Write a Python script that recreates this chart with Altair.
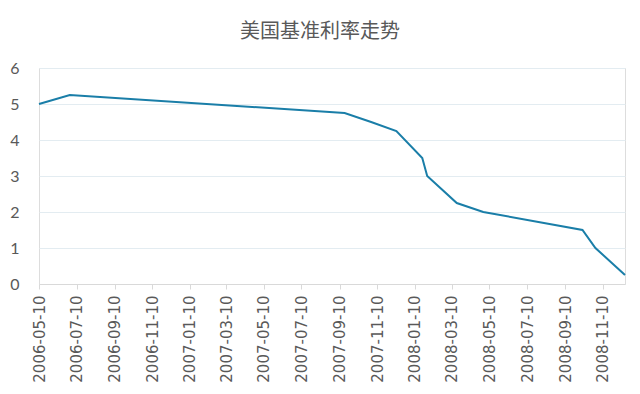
import altair as alt
import pandas as pd

# Data (US federal funds target rate)
dates = ["2006-05-10", "2006-06-29", "2007-09-18", "2007-10-31", "2007-12-11",
         "2008-01-22", "2008-01-30", "2008-03-18", "2008-04-30", "2008-10-08",
         "2008-10-29", "2008-12-16"]
rates = [5.00, 5.25, 4.75, 4.50, 4.25, 3.50, 3.00, 2.25, 2.00, 1.50, 1.00, 0.25]

tick_labels = ["2006-05-10", "2006-07-10", "2006-09-10", "2006-11-10",
               "2007-01-10", "2007-03-10", "2007-05-10", "2007-07-10",
               "2007-09-10", "2007-11-10", "2008-01-10", "2008-03-10",
               "2008-05-10", "2008-07-10", "2008-09-10", "2008-11-10"]
y_ticks = [0, 1, 2, 3, 4, 5, 6]
title_text = "美国基准利率走势"


def to_ms(s):
    return int(pd.Timestamp(s).value // 10**6)


df = pd.DataFrame({"t": [to_ms(d) for d in dates], "rate": rates})

x_domain = [to_ms(dates[0]), to_ms(dates[-1])]
x_values = [to_ms(s) for s in tick_labels]

label_color = "#595959"

chart = alt.Chart(df).mark_line(color="#1a7ea8", strokeWidth=2).encode(
    x=alt.X(
        "t:T",
        scale=alt.Scale(type="utc", domain=x_domain, nice=False),
        axis=alt.Axis(
            title=None,
            values=x_values,
            labelExpr="utcFormat(datum.value, '%Y-%m-%d')",
            labelAngle=270,
            labelFont="DejaVu Sans",
            labelFontSize=15,
            labelColor=label_color,
            labelPadding=6,
            labelOverlap=False,
            tickSize=5,
            tickColor="#d9d9d9",
            domainColor="#d9d9d9",
            grid=False,
        ),
    ),
    y=alt.Y(
        "rate:Q",
        scale=alt.Scale(domain=[0, 6], nice=False),
        axis=alt.Axis(
            title=None,
            values=y_ticks,
            format="d",
            labelFont="Lato",
            labelFontSize=16,
            labelColor=label_color,
            labelPadding=20,
            ticks=False,
            domain=False,
            gridColor="#e3ecf1",
            gridWidth=1,
        ),
    ),
).properties(
    width=586,
    height=216,
    title=alt.TitleParams(
        text=title_text,
        font="Noto Sans CJK SC",
        fontSize=20,
        fontWeight="normal",
        color=label_color,
        anchor="middle",
        dx=-12,
        offset=18,
    ),
    autosize=alt.AutoSizeParams(type="none"),
    padding={"left": 31, "top": 60, "right": 7, "bottom": 100},
).configure_view(stroke=None).configure(background="white")

chart.save("out.html", embed_options={"renderer": "svg", "actions": False})
